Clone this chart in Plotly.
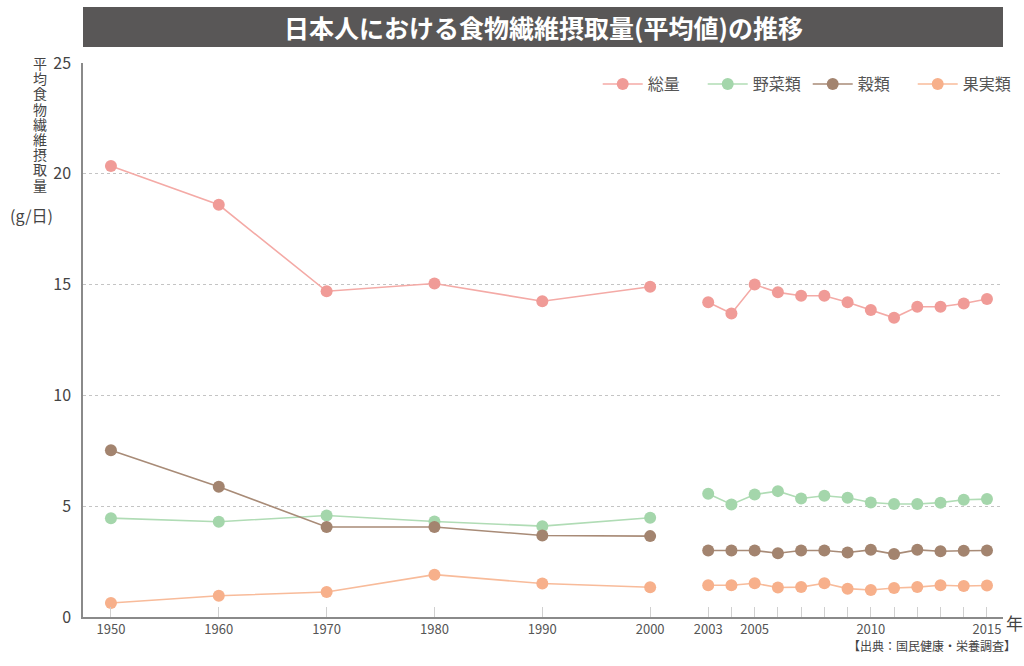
import plotly.graph_objects as go

FONT = "Noto Sans CJK JP"

years_a = [1950, 1960, 1970, 1980, 1990, 2000]
years_b = list(range(2003, 2016))

total_a = [20.35, 18.6, 14.7, 15.05, 14.25, 14.9]
total_b = [14.2, 13.7, 15.0, 14.65, 14.5, 14.5, 14.2, 13.85, 13.5, 14.0, 14.0, 14.15, 14.35]
veg_a = [4.46, 4.3, 4.58, 4.31, 4.1, 4.48]
veg_b = [5.56, 5.08, 5.53, 5.68, 5.35, 5.47, 5.38, 5.17, 5.1, 5.1, 5.16, 5.29, 5.32]
grain_a = [7.52, 5.88, 4.06, 4.06, 3.68, 3.65]
grain_b = [3.0, 3.0, 3.0, 2.88, 3.0, 3.0, 2.91, 3.03, 2.84, 3.03, 2.97, 2.99, 3.0]
fruit_a = [0.63, 0.96, 1.13, 1.91, 1.51, 1.34]
fruit_b = [1.43, 1.43, 1.52, 1.33, 1.35, 1.52, 1.28, 1.22, 1.31, 1.35, 1.43, 1.4, 1.42]

names = ["総量", "野菜類", "穀類", "果実類"]
series_a = [total_a, veg_a, grain_a, fruit_a]
series_b = [total_b, veg_b, grain_b, fruit_b]
marker_colors = ["#f09b97", "#a4d6ab", "#a3846f", "#f7b08b"]
line_colors = ["#f4aaa6", "#b0dcb5", "#a88b77", "#f8bb9a"]

labels_b = {2003: "2003", 2005: "2005", 2010: "2010", 2015: "2015"}
ticktext_b = [labels_b.get(y, "") for y in years_b]

fig = go.Figure()
for name, a, b, mc, lc in zip(names, series_a, series_b, marker_colors, line_colors):
    fig.add_trace(go.Scatter(
        x=years_a, y=a, name=name, mode="lines+markers", legendgroup=name,
        line=dict(color=lc, width=1.6), marker=dict(color=mc, size=12),
        xaxis="x", yaxis="y", hoverinfo="x+y"))
    fig.add_trace(go.Scatter(
        x=years_b, y=b, name=name, mode="lines+markers", legendgroup=name,
        showlegend=False,
        line=dict(color=lc, width=1.6), marker=dict(color=mc, size=12),
        xaxis="x2", yaxis="y", hoverinfo="x+y"))

split = 0.648
common_x = dict(
    showline=True, linecolor="#8a8a8a", linewidth=1.5,
    showgrid=False, zeroline=False,
    ticks="inside", ticklen=10, tickcolor="#d0d0d0", tickwidth=1,
    tickfont=dict(family=FONT, size=13, color="#555555"),
    fixedrange=True,
)
fig.update_layout(
    width=1024, height=666,
    margin=dict(l=83, r=21, t=63, b=49, autoexpand=False),
    paper_bgcolor="white", plot_bgcolor="white",
    font=dict(family=FONT, color="#555555"),
    xaxis=dict(domain=[0, split], range=[1947.41, 2002.69],
               tickvals=years_a, ticktext=[str(y) for y in years_a], **common_x),
    xaxis2=dict(domain=[split, 1], range=[2001.75, 2015.69], anchor="y",
                tickvals=years_b, ticktext=ticktext_b, **common_x),
    yaxis=dict(range=[0, 25], tickvals=[0, 5, 10, 15, 20, 25],
               showline=True, linecolor="#8a8a8a", linewidth=1.5,
               showgrid=True, gridcolor="#c4c4c4", griddash="dot", gridwidth=1.2,
               zeroline=False, ticks="", ticklabelstandoff=7,
               tickfont=dict(family=FONT, size=16, color="#444444")),
    legend=dict(orientation="h", x=1.016, xanchor="right", y=0.962, yanchor="middle",
                font=dict(family=FONT, size=16, color="#555555"),
                itemwidth=40, entrywidth=50, bgcolor="rgba(0,0,0,0)"),
    showlegend=True,
)

# title bar
fig.add_shape(type="rect", xref="paper", yref="paper", x0=0, x1=1,
              y0=1.029, y1=1.101, fillcolor="#595757", line=dict(width=0), layer="above")
fig.add_annotation(text="<b>日本人における食物繊維摂取量(平均値)の推移</b>",
                   xref="paper", yref="paper", x=0.5, y=(617 - 27) / 554,
                   xanchor="center", yanchor="middle",
                   showarrow=False, font=dict(family=FONT, size=25, color="white"))

# y-axis title (vertical, one character per line)
ylabel = "平均食物繊維摂取量"
for i, ch in enumerate(ylabel):
    py = 63 + i * 15.2
    fig.add_annotation(text=ch, xref="paper", yref="paper",
                       x=(40 - 83) / 920, y=(617 - py) / 554,
                       xanchor="center", yanchor="middle", showarrow=False,
                       font=dict(family=FONT, size=14, color="#444444"))
fig.add_annotation(text="(g/日)", xref="paper", yref="paper",
                   x=(31 - 83) / 920, y=(617 - 215) / 554,
                   xanchor="center", yanchor="middle", showarrow=False,
                   font=dict(family=FONT, size=16, color="#444444"))

# x unit
fig.add_annotation(text="年", xref="paper", yref="paper", x=(1004 - 83) / 920,
                   y=(617 - 622) / 554,
                   xanchor="left", yanchor="middle", showarrow=False,
                   font=dict(family=FONT, size=17, color="#444444"))
# source
fig.add_annotation(text="【出典：国民健康・栄養調査】", xref="paper", yref="paper",
                   x=(1018 - 83) / 920, y=(617 - 645) / 554,
                   xanchor="right", yanchor="middle", showarrow=False,
                   font=dict(family=FONT, size=12, color="#444444"))

fig.write_html("out.html", config={"displayModeBar": False},
               post_script="document.body.style.margin='0px';")
